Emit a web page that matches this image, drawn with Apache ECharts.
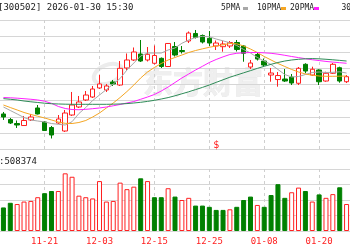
<!DOCTYPE html>
<html><head><meta charset="utf-8">
<script src="https://cdn.jsdelivr.net/npm/echarts@6/dist/echarts.min.js"></script>
<style>html,body{margin:0;padding:0;background:#fff}#c{width:350px;height:250px}</style>
</head><body><div id="c"></div>
<script>
const dates = ['11-13','11-14','11-17','11-18','11-19','11-20','11-21','11-24','11-25','11-26','11-27','11-28','12-01','12-02','12-03','12-04','12-05','12-08','12-09','12-10','12-11','12-12','12-15','12-16','12-17','12-18','12-19','12-22','12-23','12-24','12-25','12-26','12-29','12-30','12-31','01-05','01-06','01-07','01-08','01-09','01-12','01-13','01-14','01-15','01-16','01-19','01-20','01-21','01-22','01-23','01-26'];
const tickDates = ['11-21','12-03','12-15','12-25','01-08','01-20'];

const opens  = [334.3,325.7,319.5,316.4,325.0,343.6,321.9,313.3,320.3,307.9,332.7,345.1,356.0,360.6,374.6,371.5,383.9,379.2,405.6,418.0,427.3,418.0,412.9,420.6,407.9,438.9,432.7,447.4,459.1,456.0,451.6,439.7,438.6,439.7,445.1,439.7,407.1,426.5,416.4,394.7,387.7,388.5,391.6,381.9,411.3,394.7,402.5,385.4,397.4,406.0,384.3];
const closes = [329.6,320.3,317.2,324.2,329.6,334.3,308.7,301.7,326.5,335.8,348.2,352.9,363.7,373.0,380.8,377.7,380.8,405.1,418.0,430.4,416.4,426.8,425.0,407.9,443.6,425.7,431.2,459.8,452.9,445.9,444.3,444.3,442.8,445.1,434.3,428.4,413.3,419.5,410.2,397.8,393.9,385.4,382.3,405.1,400.9,403.6,384.3,397.4,411.3,385.4,392.1];
const lows   = [325.0,318.8,312.6,315.7,323.4,333.5,307.9,296.3,318.8,306.4,331.2,343.6,354.4,359.1,373.0,368.4,377.7,377.7,402.5,416.4,414.9,415.7,411.0,405.6,407.1,423.4,428.1,444.3,451.3,443.6,439.7,433.5,430.8,436.6,431.2,415.3,404.0,417.2,407.1,384.3,376.6,383.9,379.2,379.2,397.4,393.2,379.2,384.3,396.3,382.8,382.3];
const highs  = [337.4,328.1,324.2,331.2,334.3,348.2,323.4,315.7,332.7,340.5,368.4,362.2,369.9,377.7,394.7,380.8,387.0,416.4,428.1,437.4,449.0,438.1,440.5,421.9,444.3,445.9,439.7,462.2,464.5,457.5,462.9,448.2,447.4,447.4,449.0,441.2,418.0,430.4,420.3,405.6,399.4,404.0,396.3,407.1,412.9,407.6,403.6,399.8,413.3,407.6,394.7];

const volumes = [76,91,87,95,97,109,122,129,129,186,175,114,109,105,161,95,97,156,135,143,170,161,109,109,138,111,100,107,82,82,78,68,68,70,78,100,111,84,78,116,151,107,125,140,129,95,118,107,119,141,87];
const volUp   = [0,0,1,1,1,1,0,0,1,1,1,1,1,1,1,1,1,1,1,1,0,1,0,0,1,0,1,1,0,0,0,0,0,1,0,0,0,1,0,0,0,0,1,1,0,1,0,1,1,0,1];

const ma5  = [345.1,339.7,334.3,328.8,325.0,323.4,321.9,319.5,318.3,317.2,322.3,335.0,344.3,355.2,363.7,372.2,380.8,389.3,402.5,413.3,424.2,428.8,428.8,428.8,433.5,436.6,443.9,449.0,452.9,454.7,454.0,450.5,447.7,444.6,440.5,434.3,428.8,421.9,416.4,411.0,403.3,395.5,391.6,392.4,395.5,398.6,399.4,398.6,398.9,399.7,397.8];
const ma10 = [348.2,344.3,340.5,336.6,333.5,330.8,328.1,325.0,321.9,319.8,319.5,321.1,324.2,329.6,335.8,343.6,351.3,359.8,369.1,379.2,390.1,399.4,406.4,412.6,418.0,421.9,425.7,429.6,432.7,435.3,437.7,439.7,441.5,443.6,443.1,439.7,435.0,429.6,423.4,418.0,412.6,407.9,403.3,399.4,396.3,394.3,393.2,392.7,392.7,392.9,393.2];
const ma20 = [359.8,359.4,358.8,358.0,357.1,356.0,354.1,350.8,345.9,342.8,341.2,340.9,341.5,342.5,343.6,345.1,347.0,349.0,351.3,353.6,357.1,360.6,364.5,369.9,376.1,383.1,390.1,396.3,402.5,408.2,414.1,418.8,422.9,426.5,428.4,429.1,429.6,429.6,429.1,428.4,427.0,425.3,423.4,421.7,420.0,418.4,417.1,415.8,414.7,413.8,412.9];
const ma30 = [358.1,357.1,356.0,354.4,353.2,352.1,351.0,350.2,349.8,349.5,349.3,349.3,349.3,349.3,349.3,349.3,349.5,349.8,350.4,351.3,352.4,353.8,355.5,357.5,359.7,362.5,365.6,368.7,372.1,375.5,379.2,383.3,387.3,391.3,394.7,398.1,401.5,405.0,408.2,411.3,414.1,416.4,418.0,419.1,419.8,420.2,419.8,419.1,418.3,417.4,416.4];

const priceMin = 280, priceMax = 480, priceStep = 25;
const volMin = 0, volMax = 200, volStep = 50;
const titleText = '[300502] 2026-01-30 15:30';
const volText = ':508374';
const maNames = ['5PMA','10PMA','20PMA','30PMA'];
const maColors = ['#a8a8a8','#f5a623','#ff22ff','#2e8b57'];
const markerDate = '12-26', markerPrice = 286, markerText = '$';

const UP = '#ff2020', DOWN = '#008000';
const gridLeft = -2.2, gridRight = -4.8;

const chart = echarts.init(document.getElementById('c'), null, {renderer:'canvas'});

const candleData = dates.map((d,i)=>[opens[i],closes[i],lows[i],highs[i]]);
const volData = volumes.map((v,i)=>({value:v,itemStyle: volUp[i] ? {color:'#fff',borderColor:UP,borderWidth:1} : {color:DOWN,borderColor:DOWN,borderWidth:1}}));
const maArr = [ma5,ma10,ma20,ma30];

const isTick = (idx,val)=>tickDates.indexOf(val !== undefined ? val : dates[idx])>=0;
const vSplit = {show:true, alignWithLabel:true, interval:(idx)=>tickDates.indexOf(dates[idx])>=0, lineStyle:{color:'#cfcfcf',type:[3,3],width:1}};

const monoFont = '"DejaVu Sans Mono", monospace';

const legendGraphics = [];
const legTextX = [221, 257, 290, 341.5];
const legMarkX = [243, 281, 314, 368];
maNames.forEach((n,i)=>{
  legendGraphics.push({type:'text', left:legTextX[i], top:4, z:10, style:{text:n, fill:'#222', font:'8px ' + monoFont}});
  legendGraphics.push({type:'rect', left:legMarkX[i], top:7, z:10, shape:{width:5,height:3}, style:{fill:maColors[i]}});
});

chart.setOption({
  animation:false,
  backgroundColor:'#fff',
  grid:[
    {left:gridLeft, right:gridRight, top:20, height:129},
    {left:gridLeft, right:gridRight, top:169, height:62}
  ],
  xAxis:[
    {type:'category', data:dates, gridIndex:0, boundaryGap:true, axisLine:{show:false}, axisTick:{show:false, alignWithLabel:true}, axisLabel:{show:false}, splitLine:vSplit},
    {type:'category', data:dates, gridIndex:1, boundaryGap:true, axisLine:{show:false}, axisTick:{show:false, alignWithLabel:true}, splitLine:vSplit,
     axisLabel:{show:true, interval:(idx,val)=>tickDates.indexOf(val)>=0, color:'#ff2020', fontSize:9, fontFamily:monoFont, margin:6}}
  ],
  yAxis:[
    {type:'value', gridIndex:0, min:priceMin, max:priceMax, interval:priceStep, axisLine:{show:false}, axisTick:{show:false}, axisLabel:{show:false}, splitLine:{show:true, lineStyle:{color:'#d6d6d6',width:1}}},
    {type:'value', gridIndex:1, min:volMin, max:volMax, interval:volStep, axisLine:{show:false}, axisTick:{show:false}, axisLabel:{show:false}, splitLine:{show:true, lineStyle:{color:'#d6d6d6',width:1}}}
  ],
  graphic:[
    {type:'text', left:-2, top:3, z:10, style:{text:titleText, fill:'#222', font:'9px ' + monoFont}},
    {type:'text', left:-1, top:157, z:10, style:{text:volText, fill:'#222', font:'9px ' + monoFont}},
    {type:'text', x:203, y:82, z:0, style:{text:'东方财富', fill:'#efefef', stroke:'#e3e3e3', lineWidth:0.6, font:'bold 30px "Noto Sans CJK SC"', align:'center', verticalAlign:'middle'}},
    {type:'ellipse', z:0, shape:{cx:108, cy:74, rx:15, ry:9}, rotation:0.4, originX:108, originY:74, style:{fill:'none', stroke:'#ececec', lineWidth:4}}
  ].concat(legendGraphics),
  series:[
    {type:'candlestick', xAxisIndex:0, yAxisIndex:0, data:candleData, barWidth:5, z:3,
     itemStyle:{color:'#fff', color0:DOWN, borderColor:UP, borderColor0:DOWN, borderWidth:1},
     markPoint:{symbol:'circle', symbolSize:1, itemStyle:{color:'rgba(0,0,0,0)'},
       label:{show:true, formatter:markerText, color:UP, fontSize:10, fontFamily:monoFont, position:'inside'},
       data:[{coord:[markerDate, markerPrice]}]}},
    ...maArr.map((arr,i)=>({type:'line', xAxisIndex:0, yAxisIndex:0, data:arr, showSymbol:false, symbol:'none', z:4,
       lineStyle:{color:maColors[i], width:1}, silent:true})),
    {type:'bar', xAxisIndex:1, yAxisIndex:1, data:volData, barWidth:5, z:3}
  ]
});
</script></body></html>
